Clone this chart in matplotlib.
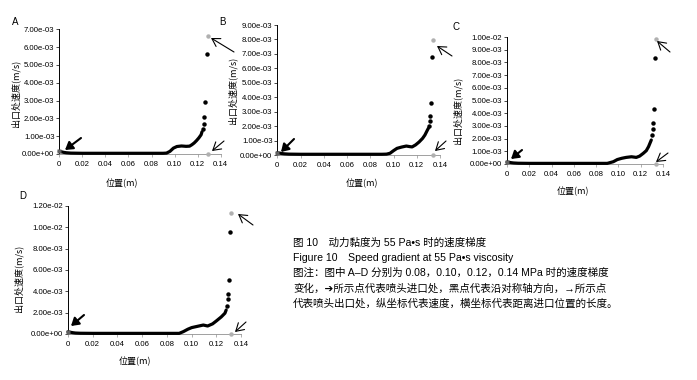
import numpy as np
import matplotlib
matplotlib.use('Agg')
import matplotlib.pyplot as plt
from matplotlib.patches import FancyArrowPatch

plt.rcParams['font.family'] = ['Noto Sans CJK SC', 'DejaVu Sans']

W, H = 697, 380

# ---- data (velocity in units of 1e-3 m/s) ----
base_x = [0, 0.002, 0.004, 0.006, 0.010, 0.020, 0.030, 0.040, 0.050, 0.060, 0.070, 0.080, 0.090]

a_x = base_x + [0.093, 0.096, 0.099, 0.102, 0.106, 0.110, 0.113, 0.115, 0.117, 0.119, 0.121, 0.123, 0.1238]
a_y = [0.15, 0.12, 0.09, 0.07, 0.05, 0.04, 0.04, 0.04, 0.04, 0.04, 0.04, 0.04, 0.04,
       0.05, 0.15, 0.33, 0.42, 0.45, 0.43, 0.44, 0.52, 0.62, 0.75, 0.90, 1.08, 1.25]
a_tail_x = [0.1245, 0.1252, 0.1258, 0.1266, 0.1279]
a_tail_y = [1.42, 1.70, 2.08, 2.90, 5.60]
a_out = (0.1287, 6.60)

b_x = base_x + [0.094, 0.097, 0.100, 0.103, 0.107, 0.111, 0.114, 0.116, 0.119, 0.122, 0.125, 0.127, 0.129, 0.130]
b_y = [0.15, 0.13, 0.10, 0.08, 0.06, 0.05, 0.05, 0.05, 0.05, 0.05, 0.05, 0.05, 0.05,
       0.06, 0.12, 0.30, 0.46, 0.55, 0.62, 0.58, 0.56, 0.70, 0.90, 1.15, 1.38, 1.70, 1.85]
b_tail_x = [0.1306, 0.1311, 0.1317, 0.1325, 0.1331]
b_tail_y = [2.03, 2.35, 2.70, 3.58, 6.77]
b_out = (0.1337, 7.96)

c_x = base_x + [0.0954, 0.099, 0.103, 0.107, 0.1117, 0.116, 0.119, 0.1223, 0.125, 0.127, 0.1295]
c_y = [0.15, 0.13, 0.10, 0.08, 0.06, 0.05, 0.05, 0.05, 0.05, 0.05, 0.05, 0.05, 0.05,
       0.18, 0.35, 0.45, 0.52, 0.57, 0.52, 0.62, 0.84, 1.05, 1.36, 1.89]
c_tail_x = [0.1304, 0.1308, 0.1311, 0.1317, 0.1328]
c_tail_y = [2.26, 2.73, 3.25, 4.30, 8.32]
c_out = (0.1337, 9.82)

d_x = base_x + [0.0933, 0.097, 0.1001, 0.104, 0.1095, 0.113, 0.117, 0.120, 0.124, 0.127, 0.1280]
d_y = [0.20, 0.16, 0.12, 0.09, 0.07, 0.06, 0.06, 0.06, 0.06, 0.06, 0.06, 0.06, 0.06,
       0.22, 0.45, 0.60, 0.70, 0.84, 0.75, 0.95, 1.22, 1.60, 1.95, 2.25]
d_tail_x = [0.1284, 0.1292, 0.1297, 0.1305, 0.1313]
d_tail_y = [2.65, 3.25, 3.78, 5.06, 9.59]
d_out = (0.1316, 11.30)

x_ticks = [0, 0.02, 0.04, 0.06, 0.08, 0.10, 0.12, 0.14]
x_labels = ['0', '0.02', '0.04', '0.06', '0.08', '0.10', '0.12', '0.14']

caption = [
    '图 10　动力黏度为 55 Pa•s 时的速度梯度',
    'Figure 10　Speed gradient at 55 Pa•s viscosity',
    '图注：图中 A–D 分别为 0.08，0.10，0.12，0.14 MPa 时的速度梯度',
    '变化，➔所示点代表喷头进口处，黑点代表沿对称轴方向，→所示点',
    '代表喷头出口处，纵坐标代表速度，横坐标代表距离进口位置的长度。',
]
caption_fonts = ['Liberation Sans', 'Noto Sans CJK SC', 'DejaVu Sans']


def px(x, y):
    return (x / W, 1 - y / H)


def rect(l, t, r, b):
    return [l / W, 1 - b / H, (r - l) / W, (b - t) / H]


def arrow(fig, tail, head, filled):
    if filled:
        a = FancyArrowPatch(px(*tail), px(*head), transform=fig.transFigure,
                            arrowstyle='-|>,head_length=0.45,head_width=0.28',
                            mutation_scale=10, lw=1.5,
                            color='black', shrinkA=0, shrinkB=0)
    else:
        a = FancyArrowPatch(px(*tail), px(*head), transform=fig.transFigure,
                            arrowstyle='->,head_length=0.5,head_width=0.3',
                            mutation_scale=11, lw=0.8,
                            color='black', shrinkA=0, shrinkB=0)
    fig.add_artist(a)


def panel(fig, box, xs, ys, tx, ty, out, yticks, letter, lpos, ylpos, xlpos, arrows):
    ax = fig.add_axes(rect(*box))
    scale = 1e-3
    ax.plot(np.array(xs), np.array(ys) * scale, '-', color='black', lw=2.3,
            solid_capstyle='round', clip_on=False, zorder=3)
    ax.plot(np.array(tx), np.array(ty) * scale, 'o', color='black', ms=3.2,
            mec='none', clip_on=False, zorder=3)
    ax.plot(xs[0], ys[0] * scale, 's', color='#606060', ms=3, mec='none', clip_on=False, zorder=4)
    ax.plot([out[0], out[0]], [out[1] * scale, 0], 'o', color='#b0b0b0', ms=3.2,
            mec='none', clip_on=False, zorder=4)

    ax.set_xlim(0, 0.14)
    ax.set_ylim(0, yticks[-1])
    ax.set_xticks(x_ticks)
    ax.set_xticklabels(x_labels)
    ax.set_yticks(yticks)
    ax.set_yticklabels(['%.2e' % v for v in yticks])
    for lab in ax.get_xticklabels() + ax.get_yticklabels():
        lab.set_family('Liberation Sans')
        lab.set_fontsize(5.6)
    ax.tick_params(axis='both', length=2, width=0.5, pad=1.5, colors='black')
    ax.tick_params(axis='x', colors='#909090', labelcolor='black', pad=3)

    ax.spines['right'].set_visible(False)
    ax.spines['top'].set_visible(False)
    ax.spines['left'].set_linewidth(0.7)
    ax.spines['bottom'].set_linewidth(0.6)
    ax.spines['bottom'].set_color('#909090')
    ax.patch.set_alpha(0)

    fig.text(*px(*lpos), letter, fontsize=7, family='Liberation Sans', ha='center', va='center')
    fig.text(*px(*ylpos), '出口处速度(m/s)', fontsize=6.5, rotation=90, ha='center', va='center')
    fig.text(*px(*xlpos), '位置(m)', fontsize=6.5, ha='center', va='center')

    for tail, head, filled in arrows:
        arrow(fig, tail, head, filled)
    return ax


fig = plt.figure(figsize=(W / 100, H / 100), dpi=100)
fig.patch.set_facecolor('white')

panel(fig, (59.3, 29.3, 220.7, 154), a_x, a_y, a_tail_x, a_tail_y, a_out,
      [i * 1e-3 for i in range(8)], 'A', (15, 22), (15, 93), (122, 183),
      [((81, 138), (65, 150), True), ((234, 52), (211, 38), False), ((224, 141), (212, 151), False)])

panel(fig, (277.3, 25, 440, 155), b_x, b_y, b_tail_x, b_tail_y, b_out,
      [i * 1e-3 for i in range(10)], 'B', (222, 22), (232, 90), (362, 183),
      [((294, 139), (281, 152), True), ((452, 56), (437, 46), False), ((446, 141), (435, 151), False)])

panel(fig, (507, 37, 663, 164), c_x, c_y, c_tail_x, c_tail_y, c_out,
      [i * 1e-3 for i in range(11)], 'C', (456, 27), (457, 110), (573, 191),
      [((522, 150), (511, 159), True), ((670, 52), (657, 41), False), ((668, 153), (656, 162), False)])

panel(fig, (68, 206, 241, 334), d_x, d_y, d_tail_x, d_tail_y, d_out,
      [i * 2e-3 for i in range(7)], 'D', (23, 196), (18, 278), (135, 362),
      [((84, 315), (71, 326), True), ((253, 225), (238, 214), False), ((246, 322), (235, 332), False)])

for i, line in enumerate(caption):
    fig.text(*px(293, 243 + i * 15), line, fontsize=7.6, family=caption_fonts,
             ha='left', va='center')

fig.savefig('out.png', dpi=100)
